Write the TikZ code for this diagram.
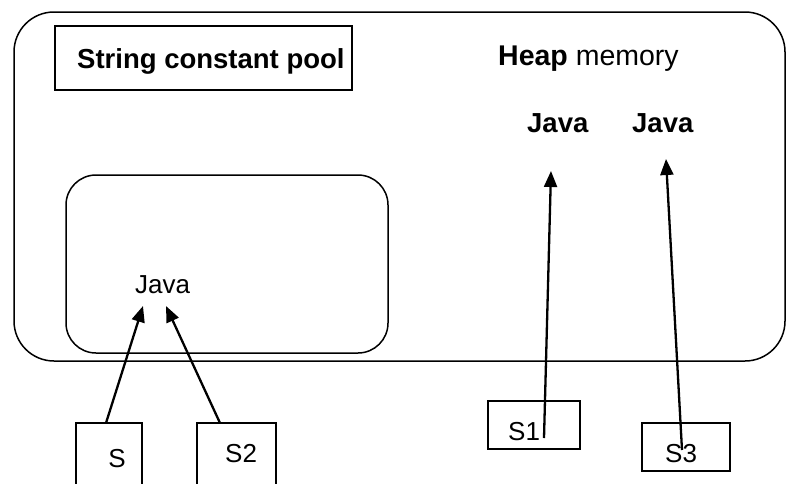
\documentclass[tikz,border=0pt]{standalone}
\usepackage{fontspec}
\setmainfont{Liberation Sans}
\usetikzlibrary{arrows.meta}

\tikzset{
  region/.style={draw, line width=1.5pt},
  refbox/.style={draw, line width=1.7pt, inner sep=0pt},
  ptr/.style={line width=2.3pt, -{Triangle[length=16pt,width=13pt]}},
  bigtxt/.style={font=\fontsize{27.5}{30}\selectfont, inner sep=0pt, anchor=base west},
  midtxt/.style={font=\fontsize{26}{28}\selectfont, inner sep=0pt, anchor=base west},
}

\begin{document}
\begin{tikzpicture}[x=1pt, y=-1pt]
  \useasboundingbox (0,0) rectangle (789,483);
  \clip (0,0) rectangle (789,483);

  % heap area and the string constant pool inside it
  \draw[region, rounded corners=40pt] (14,12) rectangle (785,361);
  \draw[region, rounded corners=30pt] (66,175) rectangle (388,353);

  % title box of the pool
  \node[refbox, minimum width=297pt, minimum height=64pt] (title) at (203.5,58) {};
  \node[bigtxt] (titletxt) at (77,68) {\bfseries String constant pool};

  \node[bigtxt, font=\fontsize{28.5}{30}\selectfont] (heap) at (498,65) {\textbf{Heap} memory};

  % string objects
  \node[bigtxt] (java1) at (527,132) {\bfseries Java};
  \node[bigtxt] (java2) at (632,132) {\bfseries Java};
  \node[midtxt] (poolJava) at (135,293) {Java};

  % reference variables
  \node[refbox, minimum width=66pt, minimum height=80pt] (sbox) at (109,463) {};
  \node[midtxt, anchor=base] (stxt) at (117,467) {S};
  \node[refbox, minimum width=79pt, minimum height=80pt] (s2box) at (236.5,463) {};
  \node[midtxt] (s2txt) at (225,462) {S2};
  \node[refbox, minimum width=92pt, minimum height=48pt] (s1box) at (534,425) {};
  \node[midtxt] (s1txt) at (508,440) {S1};
  \node[refbox, minimum width=88pt, minimum height=48pt] (s3box) at (686,447) {};
  \node[midtxt] (s3txt) at (665,462) {S3};

  % arrow end points
  \coordinate (sTail) at (106,423);
  \coordinate (sTip) at (143,306);
  \coordinate (s2Tail) at (220,423);
  \coordinate (s2Tip) at (166,306);
  \coordinate (s1Tail) at (544,438);
  \coordinate (s1Tip) at (551,171);
  \coordinate (s3Tail) at (682,450);
  \coordinate (s3Tip) at (666,159);

  \draw[ptr] (sTail) -- (sTip);
  \draw[ptr] (s2Tail) -- (s2Tip);
  \draw[ptr] (s1Tail) -- (s1Tip);
  \draw[ptr] (s3Tail) -- (s3Tip);
\end{tikzpicture}
\end{document}
